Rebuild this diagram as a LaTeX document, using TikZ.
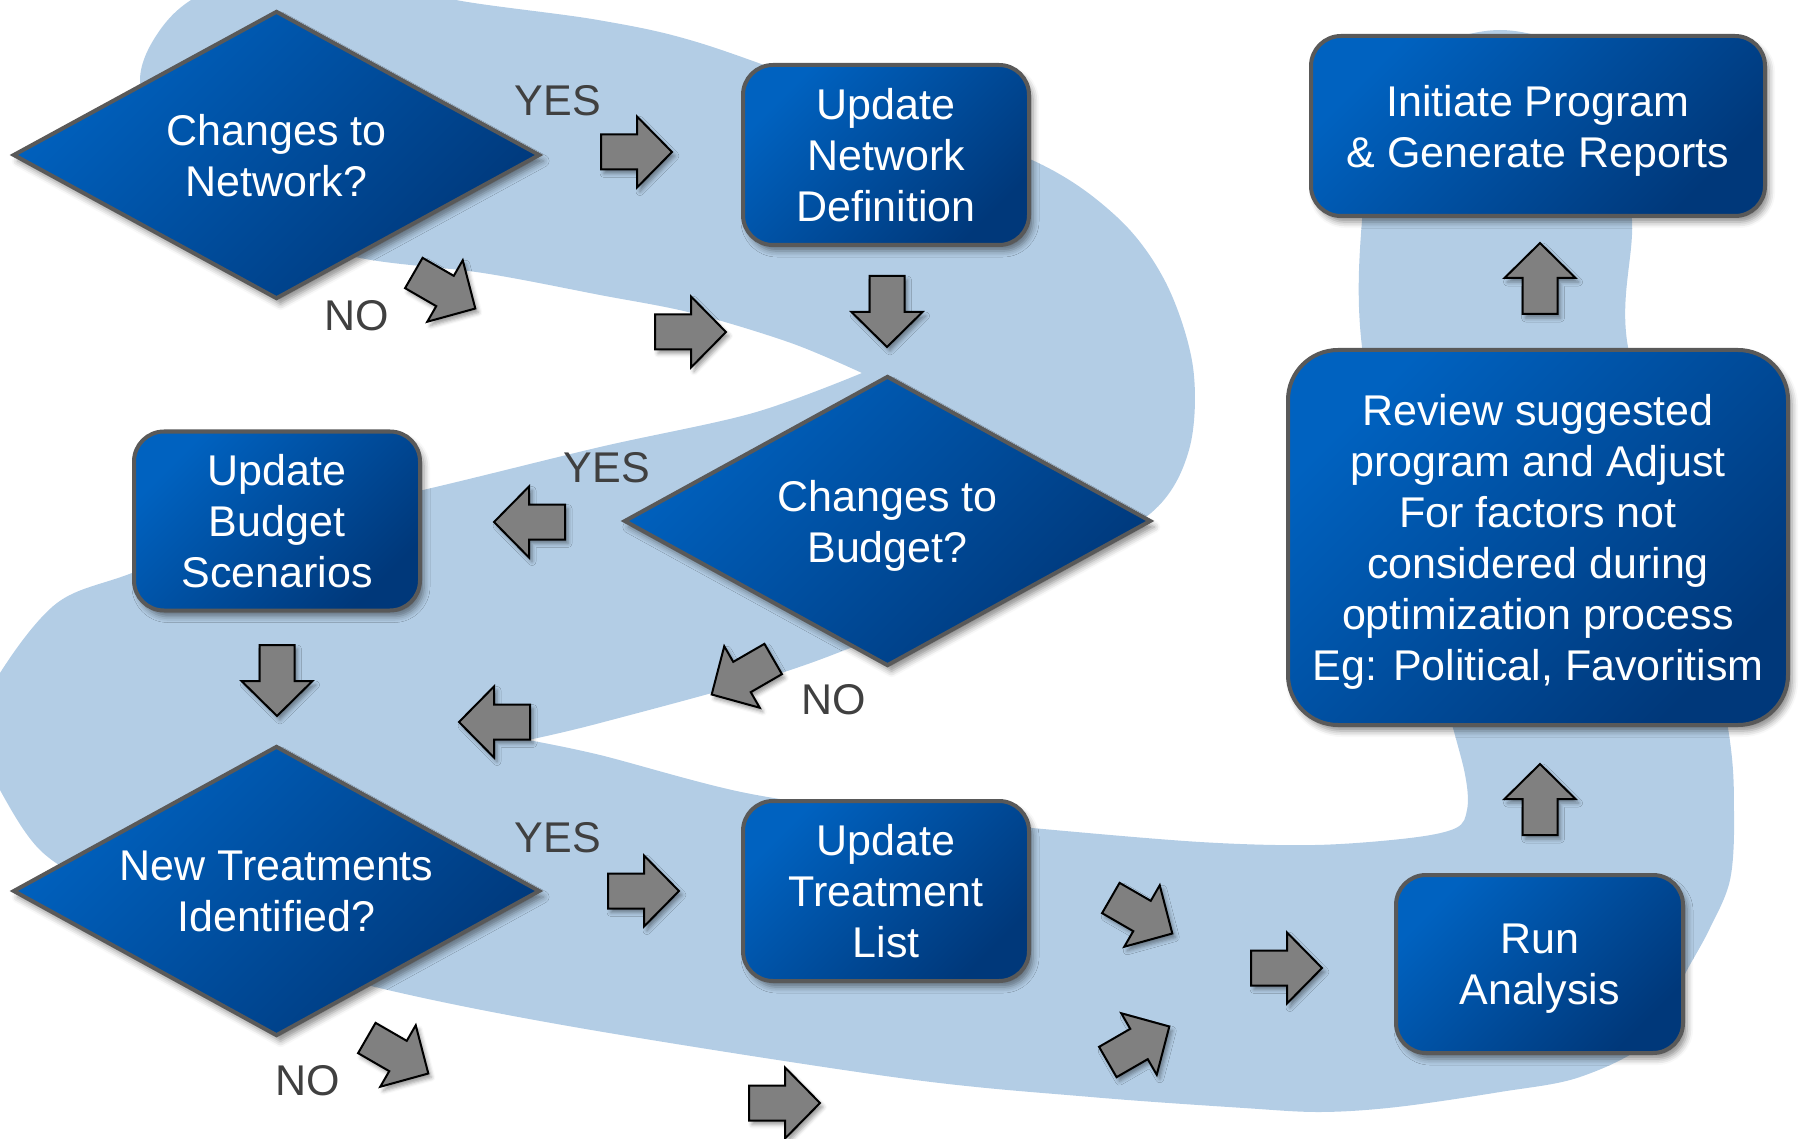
\documentclass[tikz,border=0pt]{standalone}
\usepackage{fontspec}
\setmainfont{Liberation Sans}
\usetikzlibrary{shapes.geometric,shadows,shadows.blur}
\definecolor{bandblue}{RGB}{179,205,229}
\definecolor{nodelight}{RGB}{0,98,192}
\definecolor{nodedark}{RGB}{0,56,122}
\definecolor{bordergrey}{RGB}{89,89,89}
\definecolor{arrowgrey}{RGB}{128,128,128}
\definecolor{labelgrey}{RGB}{64,64,64}
\newcommand\boxfont{\fontsize{43}{51}\selectfont}
\newcommand\blkarrow[3]{\draw[blockarrow, shift={(#1,#2)}, rotate=#3] (-36,-17.5) -- (0,-17.5) -- (0,-35.5) -- (35,0) -- (0,35.5) -- (0,17.5) -- (-36,17.5) -- cycle;}
\tikzset{
 nodeshadow/.style={blur shadow={shadow xshift=4pt, shadow yshift=-6pt, shadow blur radius=6pt, shadow opacity=45}},
 flowbase/.style={draw=bordergrey, line width=4pt, top color=nodelight, bottom color=nodedark, shading angle=45, text=white, align=center, font=\boxfont, inner sep=0pt, text depth=0pt, nodeshadow},
 flowbox/.style={flowbase, rectangle, rounded corners=30pt},
 decision/.style={flowbase, diamond, shape aspect=1.8},
 lbl/.style={text=labelgrey, font=\boxfont, inner sep=0pt},
 blockarrow/.style={fill=arrowgrey, draw=black, line width=2pt, line join=miter, blur shadow={shadow xshift=3pt, shadow yshift=-4pt, shadow blur radius=4pt, shadow opacity=40}},
}
\begin{document}
\begin{tikzpicture}[x=1pt,y=-1pt]
\useasboundingbox (0,0) rectangle (1802,1139);
\clip (0,0) rectangle (1802,1139);
% background band
\fill[bandblue]
 plot[smooth, tension=0.55] coordinates {(862,373) (791,343) (692,313) (600,295) (483,273) (360,258) (240,225) (160,150) (140,80) (160,30) (200,-5) (280,-30) (380,-22) (456,0) (598,20) (700,43) (860,100) (1032,160) (1117,217) (1166,283) (1193,367) (1189,450) (1151,513) (1050,568) (900,628) (781,673) (600,723) (528,740)}
 -- plot[smooth, tension=0.55] coordinates {(528,740) (600,755) (746,793) (900,815) (1032,828) (1200,842) (1315,845) (1410,838) (1456,828) (1467,810) (1466,780) (1453,728) (1400,540) (1362,347) (1362,220) (1380,110) (1430,50) (1500,30) (1570,50) (1615,110) (1632,220) (1628,347) (1690,540) (1728,728) (1734,813) (1730,880) (1709,930) (1686,972) (1650,1040) (1580,1077) (1500,1092) (1397,1107) (1321,1112) (1244,1108) (1091,1097) (900,1078) (574,1027) (367,985) (200,935) (100,888) (40,850) (0,790) (-25,733) (0,673) (57,603) (132,573) (250,528) (423,490) (600,447) (753,413) (862,373)}
 -- cycle;
% nodes
\node[decision, minimum width=527pt, minimum height=288pt] (netq) at (276.5,155) {Changes to\\Network?};
\node[flowbox, minimum width=286pt, minimum height=180pt] (netdef) at (886,155) {Update\\Network\\Definition};
\node[flowbox, minimum width=454pt, minimum height=180pt] (init) at (1538,126) {Initiate Program\\\& Generate Reports};
\node[decision, minimum width=527pt, minimum height=290pt] (budq) at (887.5,521) {Changes to\\Budget?};
\node[flowbox, minimum width=286pt, minimum height=179pt] (budget) at (277,521) {Update\\Budget\\Scenarios};
\node[flowbox, rounded corners=50pt, minimum width=500pt, minimum height=375pt] (review) at (1538,537.5) {Review suggested\\program and Adjust\\For factors not\\considered during\\optimization process\\Eg: Political, Favoritism};
\node[decision, minimum width=527pt, minimum height=290pt] (treatq) at (276.5,891) {New Treatments\\Identified?};
\node[flowbox, minimum width=286pt, minimum height=180pt] (treat) at (886,891) {Update\\Treatment\\List};
\node[flowbox, minimum width=287pt, minimum height=178pt] (run) at (1539.5,964) {Run\\Analysis};
% labels
\node[lbl] (yes1) at (558,101) {YES};
\node[lbl] (no1) at (357,316) {NO};
\node[lbl] (yes2) at (607,468) {YES};
\node[lbl] (no2) at (834,700) {NO};
\node[lbl] (yes3) at (558,838) {YES};
\node[lbl] (no3) at (308,1081) {NO};
% block arrows
\blkarrow{637}{152}{0}
\blkarrow{445}{291}{-30}
\blkarrow{691}{332}{0}
\blkarrow{887}{312}{-90}
\blkarrow{529}{522}{180}
\blkarrow{742}{677}{-150}
\blkarrow{494}{722}{180}
\blkarrow{277}{681}{-90}
\blkarrow{644}{891}{0}
\blkarrow{398}{1056}{-30}
\blkarrow{785}{1103}{0}
\blkarrow{1142}{916}{-30}
\blkarrow{1287}{968}{0}
\blkarrow{1139}{1044}{30}
\blkarrow{1540}{799}{90}
\blkarrow{1540}{278}{90}
\end{tikzpicture}
\end{document}
